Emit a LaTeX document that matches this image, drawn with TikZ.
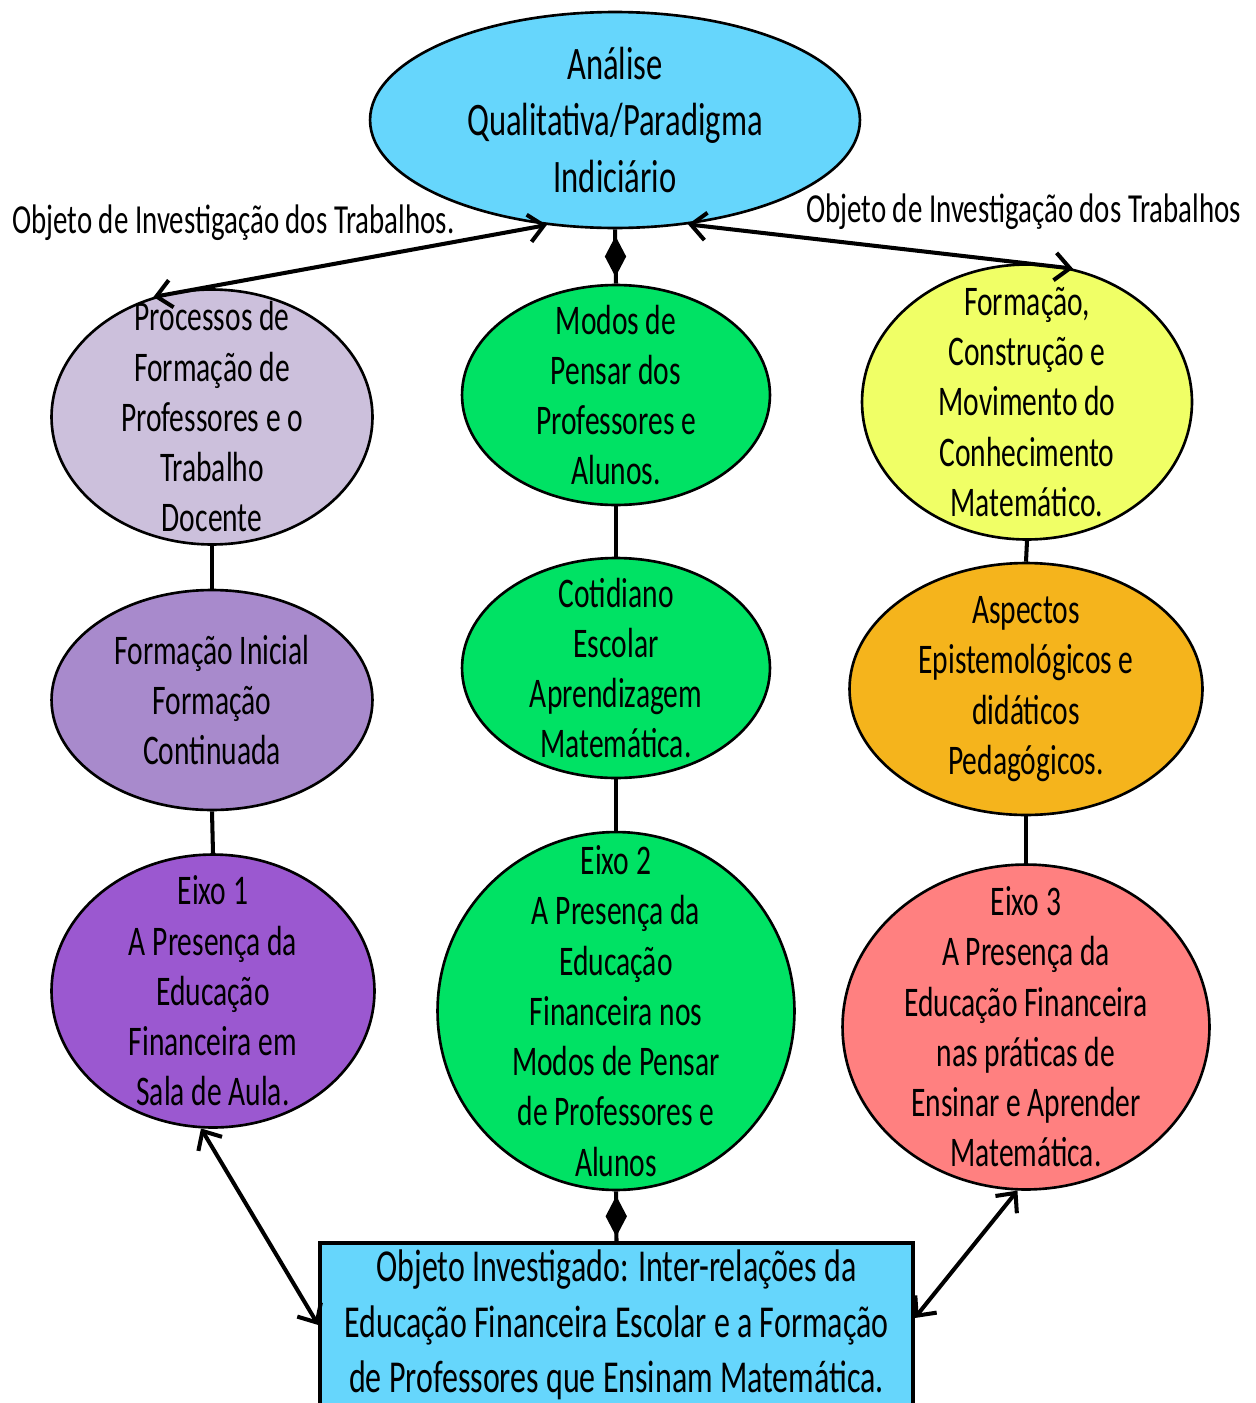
\documentclass[tikz,border=0pt]{standalone}
\usepackage{fontspec}
\setmainfont{Carlito}[FakeStretch=0.7]
\usetikzlibrary{shapes.geometric,arrows.meta}
\definecolor{cTop}{RGB}{102,214,252}
\definecolor{cP1}{RGB}{204,192,220}
\definecolor{cP2}{RGB}{168,138,204}
\definecolor{cP3}{RGB}{155,88,208}
\definecolor{cGreen}{RGB}{0,226,100}
\definecolor{cYellow}{RGB}{240,255,102}
\definecolor{cOrange}{RGB}{245,180,28}
\definecolor{cPink}{RGB}{255,128,128}
\begin{document}
\begin{tikzpicture}[x=0.02cm,y=-0.02cm,
  ell/.style={ellipse, draw=black, line width=1.5pt, inner sep=0pt},
  txt/.style={align=center, font=\fontsize{24}{28.6}\selectfont, inner sep=0pt, text=black},
  link/.style={line width=2.3pt},
  dbl/.style={line width=2.3pt, {Straight Barb[length=3mm,width=5.5mm]}-{Straight Barb[length=3mm,width=5.5mm]}},
  dia/.style={diamond, fill=black, minimum width=0.46cm, minimum height=0.85cm, inner sep=0pt, aspect=0.55},
  lbl/.style={font=\fontsize{23.5}{28}\selectfont, inner sep=0pt, anchor=base west}]
\useasboundingbox (0,0) rectangle (1256,1403);

% ellipses
\node[ell, fill=cTop, minimum width=9.8cm, minimum height=4.32cm] (top) at (615,120) {};
\node[ell, fill=cP1, minimum width=6.42cm, minimum height=5.1cm] (p1) at (212,417) {};
\node[ell, fill=cP2, minimum width=6.42cm, minimum height=4.4cm] (p2) at (212,700) {};
\node[ell, fill=cP3, minimum width=6.46cm, minimum height=5.46cm] (p3) at (213,991) {};
\node[ell, fill=cGreen, minimum width=6.16cm, minimum height=4.4cm] (m1) at (616,395) {};
\node[ell, fill=cGreen, minimum width=6.16cm, minimum height=4.4cm] (m2) at (616,668) {};
\node[ell, fill=cGreen, minimum width=7.14cm, minimum height=7.16cm] (m3) at (616,1011) {};
\node[ell, fill=cYellow, minimum width=6.6cm, minimum height=5.5cm] (r1) at (1027,402) {};
\node[ell, fill=cOrange, minimum width=7.06cm, minimum height=5.04cm] (r2) at (1026,689) {};
\node[ell, fill=cPink, minimum width=7.34cm, minimum height=6.5cm] (r3) at (1026,1027) {};
\node[draw=black, line width=2pt, fill=cTop, minimum width=11.86cm, minimum height=3.28cm, inner sep=0pt] (box) at (616.5,1325) {};

% texts
\node[txt, font=\fontsize{26.5}{32.3}\selectfont] (ttop) at (top.center) {Análise\\Qualitativa/Paradigma\\Indiciário};
\node[txt] (tp1) at (p1.center) {Processos de\\Formação de\\Professores e o\\Trabalho\\Docente};
\node[txt] (tp2) at (p2.center) {Formação Inicial\\Formação\\Continuada};
\node[txt] (tp3) at (p3.center) {Eixo 1\\A Presença da\\Educação\\Financeira em\\Sala de Aula.};
\node[txt] (tm1) at (m1.center) {Modos de\\Pensar dos\\Professores e\\Alunos.};
\node[txt] (tm2) at (m2.center) {Cotidiano\\Escolar\\Aprendizagem\\Matemática.};
\node[txt] (tm3) at (m3.center) {Eixo 2\\A Presença da\\Educação\\Financeira nos\\Modos de Pensar\\de Professores e\\Alunos};
\node[txt] (tr1) at (r1.center) {Formação,\\Construção e\\Movimento do\\Conhecimento\\Matemático.};
\node[txt] (tr2) at (r2.center) {Aspectos\\Epistemológicos e\\didáticos\\Pedagógicos.};
\node[txt] (tr3) at (r3.center) {Eixo 3\\A Presença da\\Educação Financeira\\nas práticas de\\Ensinar e Aprender\\Matemática.};
\node[txt, font=\fontsize{26}{31.7}\selectfont] (tbox) at (box.center) {Objeto Investigado: Inter-relações da\\Educação Financeira Escolar e a Formação\\de Professores que Ensinam Matemática.};

% labels
\node[lbl] (l1) at (12,233) {Objeto de Investigação dos Trabalhos.};
\node[lbl] (l2) at (806,222) {Objeto de Investigação dos Trabalhos};

% connectors
\draw[dbl] (top.237) -- (p1.116);
\draw[dbl] (top.-55) -- (r1.71);
\draw[link] (top.south) -- node[dia] (d1) {} (m1.north);
\draw[link] (p1.south) -- (p2.north);
\draw[link] (p2.south) -- (p3.north);
\draw[link] (m1.south) -- (m2.north);
\draw[link] (m2.south) -- (m3.north);
\draw[link] (r1.south) -- (r2.north);
\draw[link] (r2.south) -- (r3.north);
\draw[link] (m3.south) -- node[dia] (d2) {} (box.north);
\draw[dbl] (p3.265) -- (box.west);
\draw[dbl] (r3.-93) -- ([yshift=0.14cm]box.east);
\end{tikzpicture}
\end{document}
